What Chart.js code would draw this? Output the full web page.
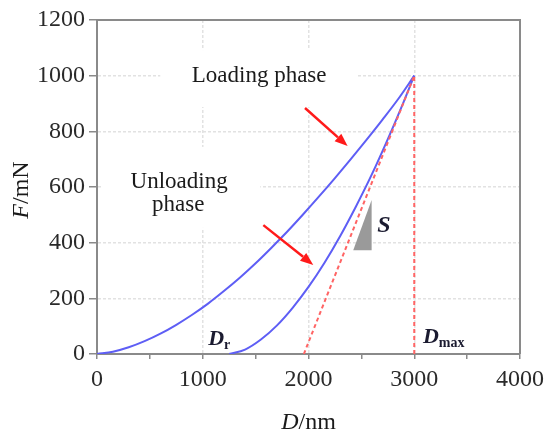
<!DOCTYPE html>
<html>
<head>
<meta charset="utf-8">
<script src="https://cdn.jsdelivr.net/npm/chart.js@4"></script>
<style>
  body { margin: 0; background: #fff; }
  #wrap { width: 550px; height: 438px; }
</style>
</head>
<body>
<div id="wrap"><canvas id="chart" width="550" height="438"></canvas></div>
<script>
// loading curve (D in nm, F in mN)
const loadD = [0, 150, 300, 450, 600, 750, 900, 1050, 1200, 1350, 1500, 1650, 1800, 1950, 2100, 2250, 2400, 2550, 2700, 2850, 3000];
const loadF = [0, 8, 24, 46, 73, 105, 141, 181, 226, 274, 326, 382, 440, 502, 566, 632, 700, 770, 842, 917, 1000];

// unloading curve
const unloadD = [1250, 1400, 1550, 1700, 1850, 2000, 2150, 2300, 2450, 2600, 2750, 2900, 3000];
const unloadF = [0, 16, 52, 102, 166, 241, 327, 424, 531, 646, 772, 906, 1000];

// tangent at top of unloading, and the Dmax drop line
const tangentD = [1956, 3000];
const tangentF = [0, 1000];
const dmaxD = [3000, 3000];
const dmaxF = [0, 1000];

// slope triangle S
const triD = [2423, 2597, 2597, 2423];
const triF = [373, 373, 553, 373];

const xTicks = [0, 1000, 2000, 3000, 4000];
const yTicks = [0, 200, 400, 600, 800, 1000, 1200];

// annotations in data coordinates
const arrows = [
  { from: [1967, 884], to: [2370, 747] },
  { from: [1573, 463], to: [2045, 320] }
];
const notes = [
  { text: 'Loading phase', d: 1533, f: 999 },
  { text: 'Unloading', d: 777, f: 618 },
  { text: 'phase', d: 768, f: 535 }
];
const noteBoxes = [
  { d0: 598, d1: 2467, f0: 887, f1: 1092 },
  { d0: 40, d1: 1544, f0: 453, f1: 744 }
];

const pts = (xs, ys) => xs.map((x, i) => ({ x: x, y: ys[i] }));

Chart.defaults.font.family = 'Liberation Serif';

const serif = 'Liberation Serif';
const ink = '#1a1a1a';

const annotations = {
  id: 'annotations',
  beforeDatasetsDraw(chart) {
    const { ctx, scales: { x, y } } = chart;
    ctx.save();
    ctx.fillStyle = '#fff';
    noteBoxes.forEach(b => {
      const l = x.getPixelForValue(b.d0), r = x.getPixelForValue(b.d1);
      const t = y.getPixelForValue(b.f1), bt = y.getPixelForValue(b.f0);
      ctx.fillRect(l, t, r - l, bt - t);
    });
    ctx.restore();
  },
  afterDatasetsDraw(chart) {
    const { ctx, chartArea: a, scales: { x, y } } = chart;
    ctx.save();

    // frame top/right
    ctx.strokeStyle = '#8a8a8a';
    ctx.lineWidth = 2;
    ctx.beginPath();
    ctx.moveTo(a.left, a.top);
    ctx.lineTo(a.right, a.top);
    ctx.lineTo(a.right, a.bottom);
    ctx.stroke();

    // text notes
    ctx.fillStyle = ink;
    ctx.font = '23px ' + serif;
    ctx.textAlign = 'center';
    ctx.textBaseline = 'middle';
    notes.forEach(n => ctx.fillText(n.text, x.getPixelForValue(n.d), y.getPixelForValue(n.f)));

    // arrows
    ctx.strokeStyle = '#ff1a1a';
    ctx.fillStyle = '#ff1a1a';
    ctx.lineWidth = 2.5;
    arrows.forEach(ar => {
      const x0 = x.getPixelForValue(ar.from[0]), y0 = y.getPixelForValue(ar.from[1]);
      const x1 = x.getPixelForValue(ar.to[0]), y1 = y.getPixelForValue(ar.to[1]);
      const ang = Math.atan2(y1 - y0, x1 - x0);
      const hl = 13, hw = 5;
      const bx = x1 - hl * Math.cos(ang), by = y1 - hl * Math.sin(ang);
      ctx.beginPath();
      ctx.moveTo(x0, y0);
      ctx.lineTo(bx, by);
      ctx.stroke();
      ctx.beginPath();
      ctx.moveTo(x1, y1);
      ctx.lineTo(bx + hw * Math.sin(ang), by - hw * Math.cos(ang));
      ctx.lineTo(bx - hw * Math.sin(ang), by + hw * Math.cos(ang));
      ctx.closePath();
      ctx.fill();
    });

    // D_r, D_max, S
    const sym = (main, sub, d, f, size) => {
      const px = x.getPixelForValue(d), py = y.getPixelForValue(f);
      ctx.fillStyle = '#1b1b30';
      ctx.textAlign = 'left';
      ctx.textBaseline = 'alphabetic';
      ctx.font = 'italic bold ' + size + 'px ' + serif;
      ctx.fillText(main, px, py);
      if (sub) {
        const w = ctx.measureText(main).width;
        ctx.font = 'bold 14px ' + serif;
        ctx.fillText(sub, px + w, py + 4);
      }
    };
    sym('D', 'r', 1051, 32, 22);
    sym('D', 'max', 3082, 40, 22);
    sym('S', '', 2650, 438, 24);

    // axis titles
    const title = (it, rest, cx, cy, rot) => {
      ctx.save();
      ctx.translate(cx, cy);
      ctx.rotate(rot);
      ctx.fillStyle = ink;
      ctx.textBaseline = 'middle';
      ctx.textAlign = 'left';
      ctx.font = 'italic 24px ' + serif;
      const w1 = ctx.measureText(it).width;
      ctx.font = '24px ' + serif;
      const w2 = ctx.measureText(rest).width;
      const start = -(w1 + w2) / 2;
      ctx.font = 'italic 24px ' + serif;
      ctx.fillText(it, start, 0);
      ctx.font = '24px ' + serif;
      ctx.fillText(rest, start + w1, 0);
      ctx.restore();
    };
    title('D', '/nm', (a.left + a.right) / 2, 423, 0);
    title('F', '/mN', 22, 190, -Math.PI / 2);

    ctx.restore();
  }
};

new Chart(document.getElementById('chart'), {
  type: 'scatter',
  data: {
    datasets: [
      {
        data: pts(triD, triF),
        showLine: true,
        borderWidth: 0,
        borderColor: 'rgba(0,0,0,0)',
        backgroundColor: '#9a9a9a',
        fill: 'shape',
        pointRadius: 0,
        tension: 0
      },
      {
        data: pts(tangentD, tangentF),
        showLine: true,
        borderColor: '#ff6464',
        borderWidth: 2,
        borderDash: [4, 3],
        pointRadius: 0
      },
      {
        data: pts(dmaxD, dmaxF),
        showLine: true,
        borderColor: '#ff6464',
        borderWidth: 2,
        borderDash: [4, 3],
        pointRadius: 0
      },
      {
        data: pts(loadD, loadF),
        showLine: true,
        borderColor: '#5e5ef5',
        borderWidth: 2,
        pointRadius: 0,
        cubicInterpolationMode: 'monotone'
      },
      {
        data: pts(unloadD, unloadF),
        showLine: true,
        borderColor: '#5e5ef5',
        borderWidth: 2,
        pointRadius: 0,
        cubicInterpolationMode: 'monotone'
      }
    ]
  },
  options: {
    responsive: false,
    animation: false,
    layout: { padding: { top: 20, right: 29, left: 0, bottom: 0 } },
    plugins: { legend: { display: false }, tooltip: { enabled: false } },
    scales: {
      x: {
        type: 'linear',
        min: xTicks[0],
        max: xTicks[xTicks.length - 1],
        afterFit: s => { s.height = 84; },
        ticks: {
          stepSize: 500,
          autoSkip: false,
          maxRotation: 0,
          padding: 6,
          color: '#2a2a2a',
          font: { size: 24 },
          callback: v => (xTicks.includes(v) ? String(v) : '')
        },
        grid: {
          color: c => (c.tick && xTicks.includes(c.tick.value) ? '#e2e2e2' : 'rgba(0,0,0,0)'),
          tickColor: '#8a8a8a',
          tickLength: 5,
          lineWidth: 1.5
        },
        border: { color: '#8a8a8a', width: 2, dash: [3, 2] }
      },
      y: {
        type: 'linear',
        min: yTicks[0],
        max: yTicks[yTicks.length - 1],
        afterFit: s => { s.width = 97; },
        ticks: {
          stepSize: 200,
          padding: 4,
          color: '#2a2a2a',
          font: { size: 24 },
          callback: v => (yTicks.includes(v) ? String(v) : '')
        },
        grid: {
          color: '#e2e2e2',
          tickColor: '#8a8a8a',
          tickLength: 8,
          lineWidth: 1.5
        },
        border: { color: '#8a8a8a', width: 2, dash: [3, 2] }
      }
    }
  },
  plugins: [annotations]
});
</script>
</body>
</html>
